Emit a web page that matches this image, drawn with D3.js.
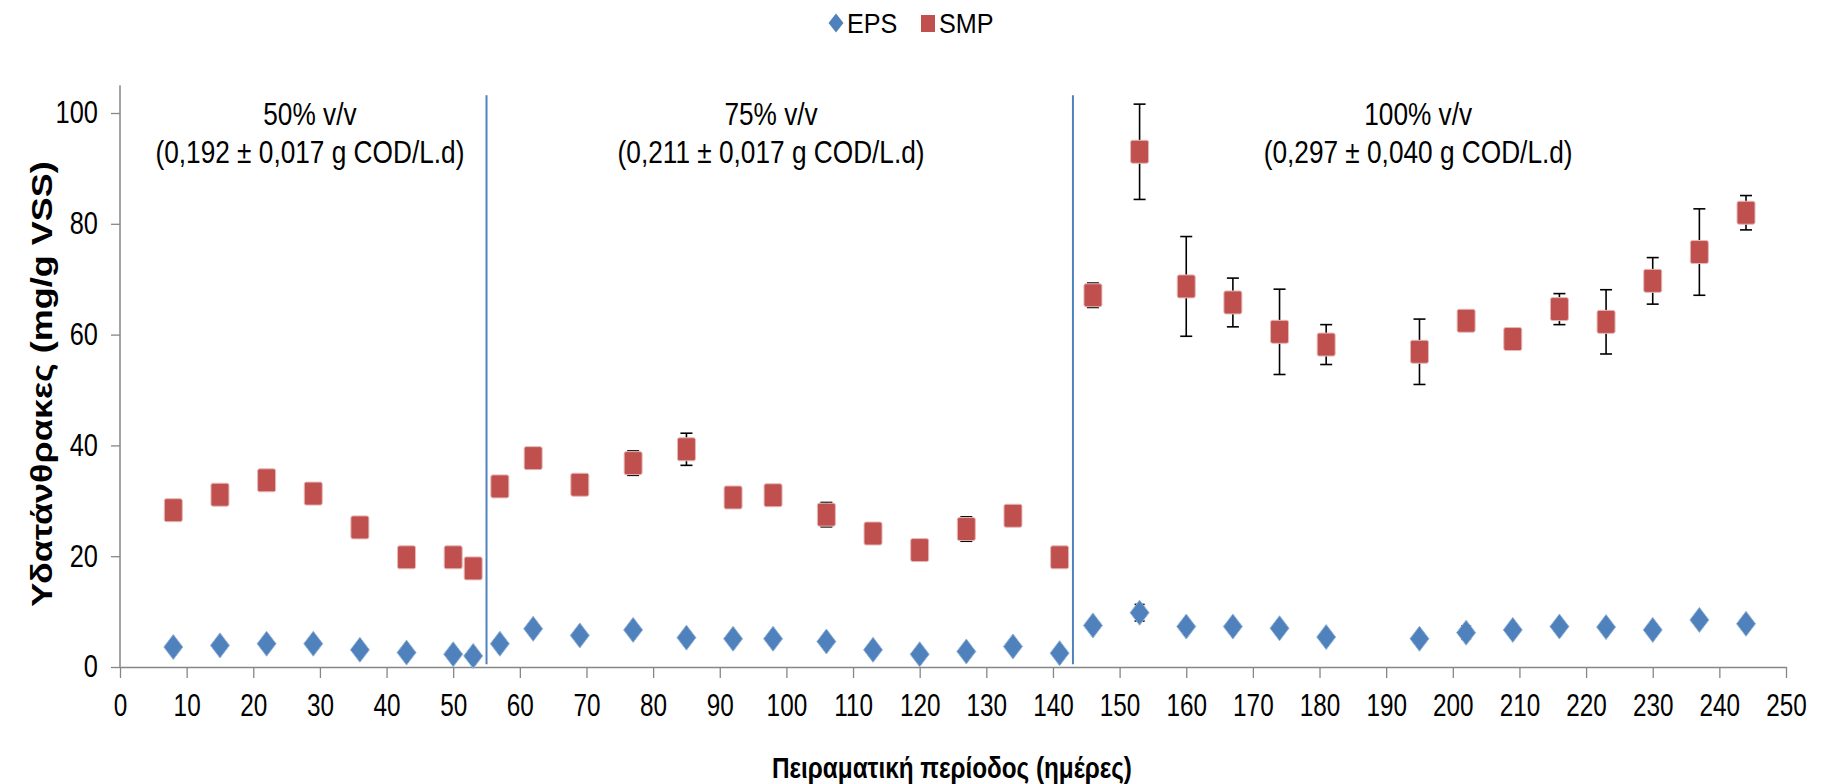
<!DOCTYPE html>
<html>
<head>
<meta charset="utf-8">
<script src="https://cdn.jsdelivr.net/npm/d3@7/dist/d3.min.js"></script>
<style>
  html, body { margin: 0; padding: 0; background: #ffffff; }
  svg { display: block; }
  text { font-family: 'Liberation Sans', Arial, sans-serif; }
</style>
</head>
<body>
<svg id="chart" width="1826" height="784"></svg>
<script>
// ---------------- data ----------------
const days = [8, 15, 22, 29, 36, 43, 50, 53, 57, 62, 69, 77, 85, 92, 98, 106, 113, 120, 127, 134, 141,
              146, 153, 160, 167, 174, 181, 195, 202, 209, 216, 223, 230, 237, 244];
const smpValues = [28.3, 31.1, 33.7, 31.3, 25.2, 19.8, 19.8, 17.8, 32.6, 37.7, 32.9, 36.8, 39.3, 30.6, 31.0, 27.5, 24.1, 21.1, 24.9, 27.3, 19.8,
                   67.1, 93.0, 68.7, 65.8, 60.5, 58.2, 56.9, 62.5, 59.2, 64.6, 62.3, 69.7, 74.9, 82.0];
const smpErrors = [1.0, 1.0, 1.0, 1.0, 1.0, 1.0, 1.0, 1.0, 1.0, 1.0, 1.0, 2.2, 2.9, 1.0, 1.0, 2.2, 1.0, 1.0, 2.2, 1.0, 1.0,
                   2.2, 8.6, 9.0, 4.4, 7.7, 3.6, 5.9, 1.0, 1.0, 2.8, 5.8, 4.2, 7.8, 3.1];
const epsValues = [3.6, 3.9, 4.2, 4.2, 3.1, 2.6, 2.3, 2.0, 4.2, 6.9, 5.7, 6.7, 5.3, 5.1, 5.1, 4.6, 3.1, 2.3, 2.8, 3.7, 2.5,
                   7.5, 9.8, 7.3, 7.3, 7.0, 5.4, 5.1, 6.2, 6.7, 7.3, 7.2, 6.7, 8.5, 7.8];
const epsErrors = [0.8, 0.8, 0.8, 0.8, 0.8, 0.8, 0.8, 0.8, 0.8, 0.8, 0.8, 0.8, 0.8, 0.8, 0.8, 0.8, 0.8, 0.8, 0.8, 0.8, 0.8,
                   0.8, 1.5, 0.8, 0.8, 0.8, 0.8, 0.8, 1.2, 0.8, 0.8, 0.8, 0.8, 0.8, 0.8];
const seriesNames = ["EPS", "SMP"];
const xTicks = d3.range(0, 251, 10);
const yTicks = [0, 20, 40, 60, 80, 100];
const phaseBoundaries = [55, 143];
const phaseLabels = [
  { center: 28.5, line1: "50% v/v",  line2: "(0,192 ± 0,017 g COD/L.d)" },
  { center: 97.7, line1: "75% v/v",  line2: "(0,211 ± 0,017 g COD/L.d)" },
  { center: 194.8, line1: "100% v/v", line2: "(0,297 ± 0,040 g COD/L.d)" }
];
const xTitle = "Πειραματική περίοδος (ημέρες)";
const yTitle = "Υδατάνθρακες (mg/g VSS)";

// ---------------- layout ----------------
const svg = d3.select("#chart");
const plot = { left: 120, right: 1786, bottom: 667 };
const x = d3.scaleLinear().domain([0, 250]).range([plot.left, plot.right]);
const y = d3.scaleLinear().domain([0, 100]).range([plot.bottom, 113]);
const yTop = 105;

const axisColor = "#868686";
const epsColor = "#4F81BD";
const smpColor = "#C0504D";

// horizontally condense text (the reference uses a narrow face)
function squeeze(sel, sx) {
  sel.each(function () {
    const t = d3.select(this);
    const xx = +t.attr("x") || 0, yy = +t.attr("y") || 0;
    t.attr("x", 0).attr("y", 0).attr("transform", `translate(${xx},${yy}) scale(${sx},1)`);
  });
}

// ---------------- axes ----------------
const xAxis = d3.axisBottom(x).tickValues(xTicks).tickSize(11).tickSizeOuter(0).tickPadding(15);
const gx = svg.append("g").attr("transform", `translate(0,${plot.bottom})`).call(xAxis);
gx.select(".domain").attr("stroke", axisColor).attr("stroke-width", 1.5);
gx.selectAll(".tick line").attr("stroke", axisColor).attr("stroke-width", 1.3);
gx.selectAll(".tick text").attr("font-family", "'Liberation Sans', Arial, sans-serif")
  .attr("font-size", 32).attr("fill", "#000");
squeeze(gx.selectAll(".tick text"), 0.76);

const yAxis = d3.axisLeft(y).tickValues(yTicks).tickSize(9).tickSizeOuter(0).tickPadding(13);
const gy = svg.append("g").attr("transform", `translate(${plot.left},0)`).call(yAxis);
gy.select(".domain").attr("stroke", axisColor).attr("stroke-width", 1.5)
  .attr("d", `M0,${y(yTop)}V${y(0)}`);
gy.selectAll(".tick line").attr("stroke", axisColor).attr("stroke-width", 1.3);
gy.selectAll(".tick text").attr("font-family", "'Liberation Sans', Arial, sans-serif")
  .attr("font-size", 31).attr("fill", "#000");
squeeze(gy.selectAll(".tick text"), 0.82);

// axis titles
const xt = svg.append("text")
  .attr("x", 952).attr("y", 778)
  .attr("text-anchor", "middle")
  .attr("font-weight", "bold").attr("font-size", 30)
  .text(xTitle);
squeeze(xt, 0.81);

svg.append("text")
  .attr("transform", `translate(52,${(y(0) + y(100)) / 2 - 6}) scale(0.8,1) rotate(-90)`)
  .attr("text-anchor", "middle")
  .attr("font-weight", "bold").attr("font-size", 36)
  .text(yTitle);

// ---------------- phase boundaries ----------------
svg.append("g").selectAll("line").data(phaseBoundaries).join("line")
  .attr("x1", d => x(d)).attr("x2", d => x(d))
  .attr("y1", y(103.2)).attr("y2", y(0.5))
  .attr("stroke", epsColor).attr("stroke-width", 2);

const ann = svg.append("g").attr("font-size", 32).attr("fill", "#000");
phaseLabels.forEach(p => {
  const a = ann.append("text").attr("x", x(p.center)).attr("y", 125).attr("text-anchor", "middle").text(p.line1);
  const b = ann.append("text").attr("x", x(p.center)).attr("y", 163).attr("text-anchor", "middle").text(p.line2);
  squeeze(a, 0.82); squeeze(b, 0.82);
});

// ---------------- series ----------------
const smpData = days.map((d, i) => ({ x: d, v: smpValues[i], e: smpErrors[i] }));
const epsData = days.map((d, i) => ({ x: d, v: epsValues[i], e: epsErrors[i] }));

function errorBars(data, capW) {
  const g = svg.append("g").attr("stroke", "#000").attr("stroke-width", 1.6);
  g.selectAll("line.v").data(data).join("line").attr("class", "v")
    .attr("x1", d => x(d.x)).attr("x2", d => x(d.x))
    .attr("y1", d => y(d.v + d.e)).attr("y2", d => y(d.v - d.e));
  g.selectAll("line.t").data(data).join("line").attr("class", "t")
    .attr("x1", d => x(d.x) - capW / 2).attr("x2", d => x(d.x) + capW / 2)
    .attr("y1", d => y(d.v + d.e)).attr("y2", d => y(d.v + d.e));
  g.selectAll("line.b").data(data).join("line").attr("class", "b")
    .attr("x1", d => x(d.x) - capW / 2).attr("x2", d => x(d.x) + capW / 2)
    .attr("y1", d => y(d.v - d.e)).attr("y2", d => y(d.v - d.e));
}

errorBars(smpData, 12);
errorBars(epsData, 10);

const sqW = 18, sqH = 23;
svg.append("g").selectAll("rect").data(smpData).join("rect")
  .attr("x", d => x(d.x) - sqW / 2).attr("y", d => y(d.v) - sqH / 2)
  .attr("width", sqW).attr("height", sqH).attr("rx", 2)
  .attr("fill", smpColor).attr("stroke", "#E6B9B8").attr("stroke-width", 1);

const dW = 19, dH = 25;
const diamond = (cx, cy, w, h) => `M${cx},${cy - h / 2}L${cx + w / 2},${cy}L${cx},${cy + h / 2}L${cx - w / 2},${cy}Z`;
svg.append("g").selectAll("path").data(epsData).join("path")
  .attr("d", d => diamond(x(d.x), y(d.v), dW, dH))
  .attr("fill", epsColor).attr("stroke", "#95B3D7").attr("stroke-width", 1);

// ---------------- legend ----------------
const lg = svg.append("g").attr("font-size", 28);
lg.append("path").attr("d", diamond(836, 23, 15, 19)).attr("fill", epsColor);
const l1 = lg.append("text").attr("x", 847).attr("y", 33).text(seriesNames[0]);
lg.append("rect").attr("x", 921).attr("y", 15).attr("width", 14).attr("height", 17).attr("fill", smpColor);
const l2 = lg.append("text").attr("x", 939).attr("y", 33).text(seriesNames[1]);
squeeze(l1, 0.9); squeeze(l2, 0.9);
</script>
</body>
</html>
